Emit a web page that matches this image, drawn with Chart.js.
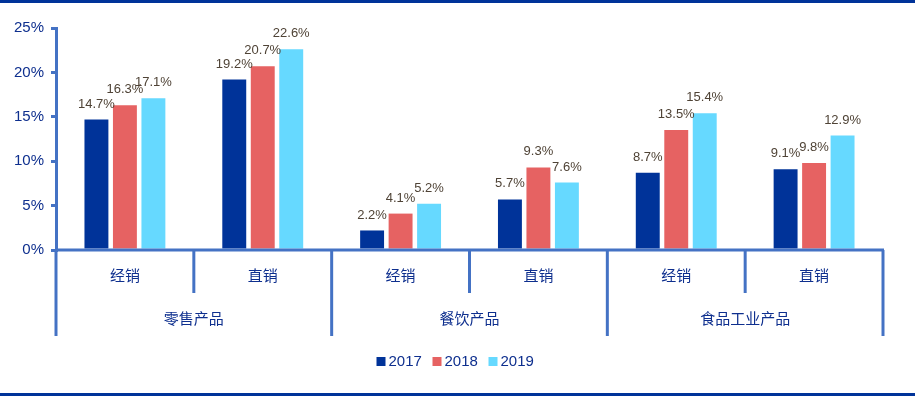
<!DOCTYPE html>
<html>
<head>
<meta charset="utf-8">
<script src="https://cdn.jsdelivr.net/npm/chart.js@4"></script>
<style>
  html, body { margin: 0; padding: 0; background: #fff; }
  #wrap { width: 915px; height: 397px; position: relative; }
</style>
</head>
<body>
<div id="wrap"><canvas id="chart"></canvas></div>
<script>
// 数据
const groups = ['零售产品', '餐饮产品', '食品工业产品'];
const channels = ['经销', '直销'];
const years = ['2017', '2018', '2019'];
const v2017 = [14.7, 19.2, 2.2, 5.7, 8.7, 9.1];
const v2018 = [16.3, 20.7, 4.1, 9.3, 13.5, 9.8];
const v2019 = [17.1, 22.6, 5.2, 7.6, 15.4, 12.9];
const yTicks = [0, 5, 10, 15, 20, 25];

const colors = ['#003399', '#E66262', '#66D9FF'];
const axisColor = '#4472C4';
const textBlue = '#0E2F8E';
const font = 'Arial, "Liberation Sans", "Noto Sans CJK SC", sans-serif';

// 六个类别: 每组 经销 + 直销
const labels = [];
groups.forEach(() => channels.forEach(c => labels.push(c)));

const frame = {
  id: 'frame',
  beforeDraw(chart) {
    const ctx = chart.ctx;
    ctx.save();
    ctx.fillStyle = '#003399';
    ctx.fillRect(0, 0, chart.width, 3);
    ctx.fillRect(0, 393, chart.width, 3);
    ctx.restore();
  },
  afterDraw(chart) {
    const ctx = chart.ctx;
    const x = chart.scales.x;
    const area = chart.chartArea;
    const base = area.bottom;
    const step = x.getPixelForValue(1) - x.getPixelForValue(0);
    ctx.save();
    ctx.strokeStyle = axisColor;
    ctx.lineWidth = 3;
    // 横轴
    ctx.beginPath();
    ctx.moveTo(area.left - 1, base);
    ctx.lineTo(area.right + 1, base);
    ctx.stroke();
    // 分隔线
    for (let i = 0; i <= labels.length; i++) {
      const px = x.getPixelForValue(i) - step / 2;
      const outer = i % channels.length === 0;
      ctx.beginPath();
      ctx.moveTo(px, base);
      ctx.lineTo(px, base + (outer ? 86 : 43));
      ctx.stroke();
    }
    // 组标签
    ctx.fillStyle = textBlue;
    ctx.font = '15px ' + font;
    ctx.textAlign = 'center';
    ctx.textBaseline = 'middle';
    groups.forEach((g, gi) => {
      const a = x.getPixelForValue(gi * channels.length) - step / 2;
      const b = x.getPixelForValue((gi + 1) * channels.length - 1) + step / 2;
      ctx.fillText(g, (a + b) / 2, base + 70);
    });

    // 图例
    ctx.textAlign = 'left';
    const itemW = 56, box = 9;
    const startX = chart.width / 2 - (itemW * years.length - 2) / 2 + 2;
    const ly = 362;
    chart.data.datasets.forEach((ds, i) => {
      const lx = startX + i * itemW;
      ctx.fillStyle = ds.backgroundColor;
      ctx.fillRect(lx, ly - 5, box, box);
      ctx.fillStyle = textBlue;
      ctx.fillText(ds.label, lx + box + 3, ly);
    });
    ctx.restore();
  },
  afterDatasetsDraw(chart) {
    const ctx = chart.ctx;
    ctx.save();
    ctx.fillStyle = '#4F4336';
    ctx.font = '13px ' + font;
    ctx.textAlign = 'center';
    ctx.textBaseline = 'bottom';
    chart.data.datasets.forEach((ds, di) => {
      chart.getDatasetMeta(di).data.forEach((bar, i) => {
        ctx.fillText(ds.data[i].toFixed(1) + '%', bar.x, bar.y - 9);
      });
    });
    ctx.restore();
  }
};

new Chart(document.getElementById('chart'), {
  type: 'bar',
  data: {
    labels: labels,
    datasets: [
      { label: years[0], data: v2017, backgroundColor: colors[0] },
      { label: years[1], data: v2018, backgroundColor: colors[1] },
      { label: years[2], data: v2019, backgroundColor: colors[2] }
    ].map(d => Object.assign(d, { categoryPercentage: 0.62, barPercentage: 0.84 }))
  },
  options: {
    responsive: true,
    maintainAspectRatio: false,
    animation: false,
    devicePixelRatio: 1,
    layout: { padding: { top: 28, right: 32, bottom: 0, left: 0 } },
    plugins: {
      legend: { display: false },
      tooltip: { enabled: false }
    },
    scales: {
      x: {
        grid: { display: false, drawTicks: false },
        border: { display: false },
        ticks: {
          color: textBlue,
          font: { size: 15, family: font },
          padding: 18,
          maxRotation: 0
        },
        afterFit(scale) { scale.height = 147; }
      },
      y: {
        min: 0,
        max: 25,
        afterBuildTicks(scale) { scale.ticks = yTicks.map(v => ({ value: v })); },
        afterFit(scale) { scale.width = 56; },
        grid: { drawOnChartArea: false, color: axisColor, tickLength: 5, lineWidth: 3 },
        border: { color: axisColor, width: 3 },
        ticks: {
          color: textBlue,
          font: { size: 15, family: font },
          padding: 7,
          callback: v => v + '%'
        }
      }
    }
  },
  plugins: [frame]
});
</script>
</body>
</html>
